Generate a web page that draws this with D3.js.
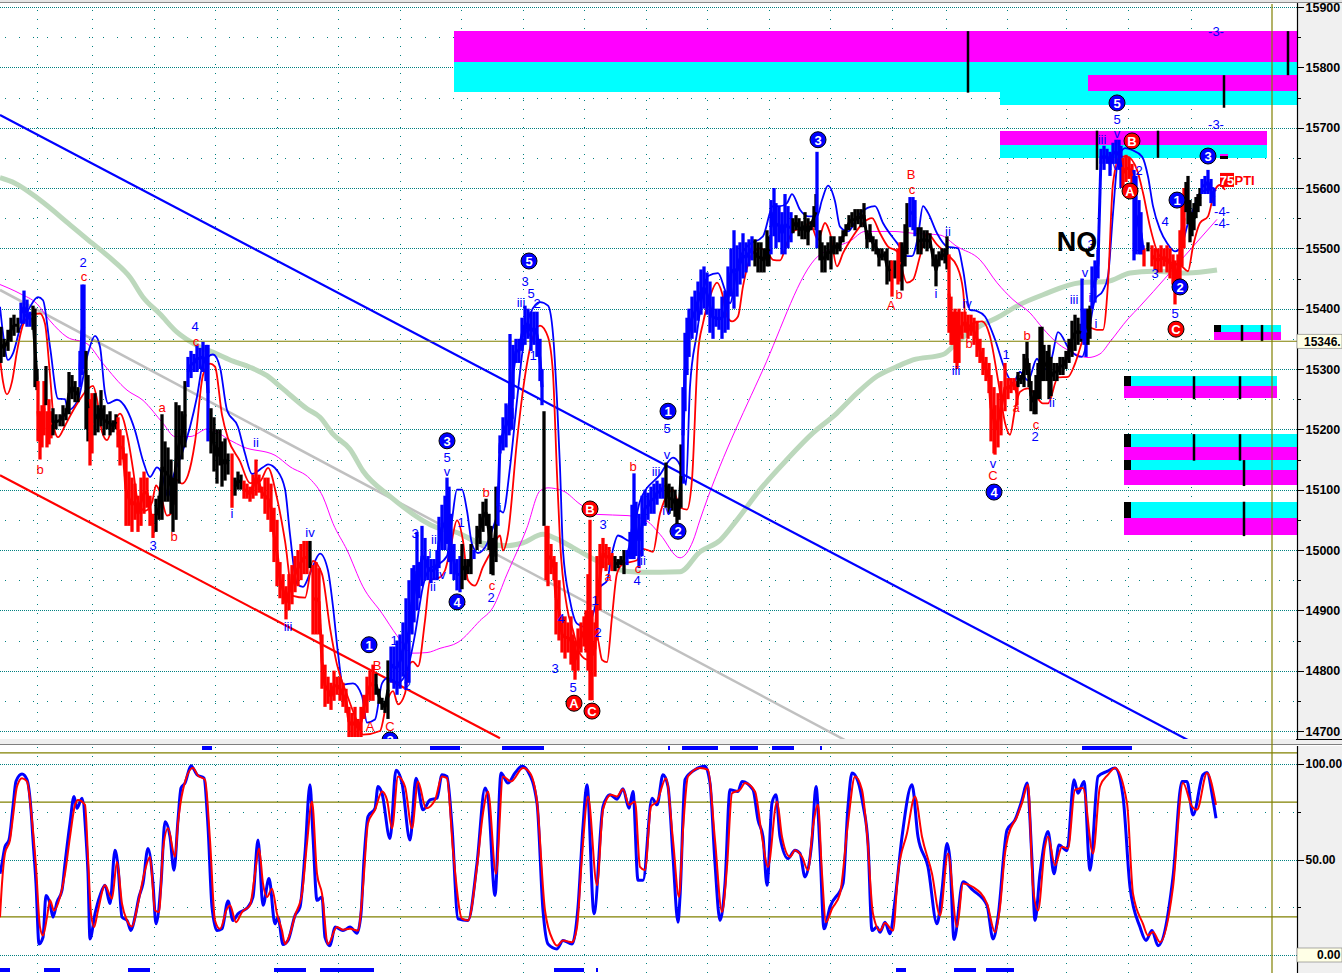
<!DOCTYPE html>
<html><head><meta charset="utf-8">
<style>
html,body{margin:0;padding:0;background:#fff;overflow:hidden}
svg{display:block}
text{font-family:"Liberation Sans",Arial,sans-serif}
.crisp{shape-rendering:crispEdges}
</style>
<script src="https://cdn.jsdelivr.net/npm/d3@7/dist/d3.min.js"></script>
</head><body><svg id="c" width="1342" height="973"></svg>
<script>
// ---- price bars: [bar, high, low]
const barsNeutral = [[1,15370,15310],[4,15350,15320],[8,15365,15330],[11,15385,15345],[14,15390,15355],[18,15385,15360],
[33,15405,15365],[35,15400,15270],[37,15300,15265],[46,15305,15240],[53,15235,15190],[56,15225,15200],[60,15225,15205],[63,15240,15205],[66,15235,15215],
[69,15295,15225],[72,15290,15250],[75,15280,15245],[78,15270,15245],[86,15330,15200],[88,15290,15180],
[95,15260,15190],[98,15240,15195],[101,15265,15205],[104,15240,15190],[107,15225,15200],[110,15230,15190],[113,15215,15195],[116,15225,15200],
[156,15085,15030],[159,15090,15050],[162,15225,15050],[165,15180,15080],[168,15170,15080],[171,15150,15060],[173,15120,15030],[176,15245,15050],[179,15240,15110],[182,15230,15150],[185,15280,15170],
[211,15235,15160],[214,15220,15130],[217,15200,15110],[220,15200,15140],[222,15180,15105],[225,15185,15115],[228,15160,15125],
[235,15120,15090],[238,15130,15100],[241,15125,15100],[310,15015,14970],
[376,14795,14760],[379,14770,14745],[382,14755,14735],[385,14750,14730],[388,14817,14720],
[462,15010,14935],[465,14985,14950],[468,14985,14960],[471,15010,14960],
[477,15040,15000],[480,15060,15010],[483,15080,15030],[486,15085,15040],[489,15060,15000],[491,15040,14960],[493,15020,14958],[496,15105,14980],
[544,15230,15040],[615,14990,14965],[618,14985,14970],[621,14990,14975],[624,15000,14960],
[666,15145,15070],[669,15110,15060],[672,15105,15065],[675,15100,15055],[677,15085,15040],[679,15085,15050],[681,15175,15070],
[755,15515,15470],[758,15510,15460],[761,15510,15460],[764,15500,15460],[767,15530,15470],[769,15520,15470],
[793,15550,15525],[796,15555,15530],[799,15550,15520],[802,15545,15515],[805,15560,15515],[808,15550,15505],[811,15545,15530],[814,15570,15535],[816,15590,15530],
[820,15530,15480],[822,15510,15460],[825,15505,15460],[828,15510,15480],[831,15520,15465],[834,15520,15490],[837,15510,15490],[840,15520,15495],
[843,15530,15510],[846,15540,15520],[849,15555,15530],[852,15560,15535],[855,15565,15530],[858,15565,15540],[861,15565,15535],[864,15575,15535],
[867,15530,15500],[870,15540,15510],[873,15520,15495],[876,15515,15490],[879,15500,15470],[882,15500,15480],[885,15495,15480],
[887,15500,15440],[890,15480,15445],[895,15480,15450],[902,15510,15430],[905,15540,15470],[907,15575,15490],
[918,15535,15490],[921,15535,15490],[924,15530,15500],[927,15530,15495],[930,15525,15500],[933,15500,15470],[936,15490,15437],[939,15495,15470],[942,15500,15480],[945,15500,15475],[947,15520,15465],
[1018,15295,15270],[1021,15290,15275],[1024,15325,15270],[1027,15345,15290],[1029,15310,15270],[1031,15280,15230],[1034,15265,15225],[1036,15290,15225],[1038,15310,15250],[1040,15370,15250],[1042,15370,15280],[1044,15340,15280],
[1047,15330,15280],[1049,15340,15250],[1051,15320,15255],[1054,15310,15280],[1057,15310,15280],[1060,15320,15290],[1063,15320,15290],[1066,15330,15300],[1069,15350,15310],[1072,15380,15320],[1075,15390,15330],[1078,15385,15340],[1081,15375,15345],
[1088,15400,15340],[1090,15405,15350],[1148,15510,15495],
[1186,15610,15560],[1188,15620,15540],[1190,15580,15510],[1192,15560,15520],[1194,15575,15530],[1196,15585,15550],[1198,15590,15560],[1200,15600,15570]];

const barsUp = [[21,15410,15375],[24,15430,15375],[27,15415,15370],[30,15395,15370],
[80,15330,15270],[82,15440,15290],[84,15440,15300],
[188,15320,15270],[191,15330,15285],[194,15325,15295],[197,15340,15295],[200,15335,15300],[203,15345,15295],[206,15340,15280],[208,15340,15180],
[391,14840,14780],[394,14840,14770],[397,14850,14760],[400,14860,14770],[403,14880,14790],[406,14920,14770],[409,14950,14780],[412,14970,14860],[414,14975,14880],[417,15030,14900],[419,14980,14920],[422,15040,14940],[425,15020,14950],[428,14990,14950],[431,14985,14945],[434,14985,14950],[437,15000,14950],[439,15055,14970],[442,15075,15000],[445,15090,15000],[447,15120,15010],[449,15105,14980],[451,15060,14960],[454,15010,14950],[457,14985,14933],[460,14990,14930],
[474,15000,14985],[498,15105,15040],[500,15190,15160],[503,15220,15165],[506,15243,15170],[509,15240,15190],[510,15358,15198],[512,15235,15200],[513,15340,15250],[516,15350,15310],[519,15350,15310],[522,15385,15330],[525,15405,15340],[528,15400,15350],[531,15395,15330],[534,15395,15340],[537,15395,15320],[540,15350,15280],[542,15300,15240],
[627,15000,14975],[630,15030,14985],[632,15075,14985],[634,15127,14985],[636,15080,14990],[639,15060,14970],[642,15090,14990],[645,15100,15040],[648,15095,15050],[651,15105,15060],[654,15110,15060],[657,15115,15075],[660,15110,15085],[663,15120,15085],
[683,15270,15110],[685,15360,15230],[687,15385,15290],[689,15400,15320],[692,15420,15350],[695,15430,15360],[698,15445,15380],[701,15465,15390],[704,15470,15400],[707,15460,15390],[710,15445,15360],[713,15420,15350],
[716,15400,15370],[719,15400,15365],[722,15420,15350],[725,15430,15360],[728,15470,15365],[731,15500,15420],[734,15530,15400],[737,15505,15420],[740,15510,15440],[743,15525,15450],[746,15510,15460],[749,15515,15470],[752,15520,15480],
[771,15580,15490],[774,15600,15520],[776,15575,15500],[779,15570,15510],[782,15560,15490],[785,15590,15490],[788,15570,15500],[791,15560,15510],[817,15660,15500],
[910,15585,15535],[913,15585,15530],[915,15580,15520],
[1082,15450,15350],[1084,15400,15340],[1086,15400,15320],[1092,15470,15400],[1095,15480,15410],[1098,15498,15450],
[1101,15665,15640],[1104,15670,15630],[1107,15665,15640],[1110,15660,15620],[1113,15675,15640],[1116,15680,15640],[1119,15680,15630],[1121,15670,15600],
[1134,15630,15480],[1136,15620,15490],[1139,15580,15490],[1141,15560,15490],[1143,15505,15490],
[1202,15615,15590],[1205,15620,15590],[1208,15630,15590],[1211,15615,15575],[1214,15600,15570]];

const barsDown = [[38,15280,15180],[40,15230,15150],[42,15240,15170],[44,15280,15190],[47,15230,15170],[49,15250,15175],[51,15230,15185],
[90,15250,15140],[92,15260,15160],
[118,15220,15170],[120,15200,15140],[123,15190,15150],[126,15160,15040],[129,15130,15040],[132,15120,15030],[135,15110,15050],[138,15090,15030],[141,15120,15040],[144,15130,15060],[147,15120,15070],[150,15090,15040],[153,15060,15020],
[232,15160,15070],[244,15115,15085],[247,15110,15085],[250,15105,15080],[253,15125,15085],[256,15150,15090],[259,15125,15095],[262,15105,15085],
[265,15120,15060],[268,15120,15050],[271,15110,15030],[274,15070,14980],[277,15050,14940],[280,14980,14920],[283,14960,14910],[286,14940,14885],[289,14960,14900],[292,14975,14910],[295,14990,14930],[298,15000,14940],[301,15010,14950],[304,15015,14960],[307,15015,14960],
[313,14975,14860],[316,14980,14860],[319,14970,14860],[322,14860,14770],[325,14810,14740],[328,14790,14745],[331,14780,14735],[334,14800,14750],[337,14790,14760],[340,14790,14750],[343,14780,14740],[346,14770,14730],[349,14740,14690],[352,14730,14690],[355,14740,14690],[358,14720,14690],[361,14740,14690],[364,14760,14720],[367,14790,14730],[370,14800,14750],[373,14810,14750],
[546,15040,14950],[548,15040,14940],[551,15010,14960],[554,14990,14950],[556,14980,14860],[559,14950,14850],[562,14890,14830],[565,14890,14820],[568,14880,14830],[571,14890,14810],[573,14860,14800],[575,14850,14785],[578,14870,14800],[581,14880,14830],[584,14890,14840],[586,14900,14830],[588,14960,14800],[590,15050,14751],[592,14900,14751],[595,14880,14790],
[597,14990,14850],[600,15010,14900],[603,15020,14970],[606,15010,14965],[609,15005,14975],[612,14995,14965],
[892,15480,15420],[898,15500,15440],[900,15510,15445],
[949,15490,15360],[951,15420,15340],[953,15395,15340],[955,15400,15310],[957,15395,15300],[959,15400,15310],[962,15395,15350],[965,15395,15360],[968,15390,15350],[971,15390,15355],[974,15385,15340],[977,15380,15320],[980,15350,15310],[983,15335,15290],[986,15320,15280],[989,15310,15260],[991,15290,15180],[994,15270,15160],[995,15240,15158],[998,15260,15170],[1001,15280,15190],[1005,15310,15230],[1008,15285,15250],[1011,15285,15260],[1014,15285,15265],[1017,15280,15240],
[1123,15650,15600],[1126,15655,15610],[1129,15650,15615],[1132,15640,15600],[1144,15500,15470],[1152,15505,15470],[1155,15500,15465],[1158,15500,15460],[1161,15505,15460],[1164,15500,15470],[1167,15505,15460],[1170,15500,15450],[1173,15490,15440],[1175,15480,15407],[1178,15490,15445],[1180,15530,15445],[1182,15590,15470],[1184,15600,15500]];

// ---- price overlays: [bar, price]
const fastAverage = [[0,15403],[3,15359],[8,15315],[13,15326],[20,15367],[30,15403],[38,15419],[43,15414],[50,15337],[58,15251],[65,15250],[68,15232],[78,15249],[88,15326],[95,15355],[100,15337],[105,15260],[108,15243],[117,15249],[127,15232],[135,15198],[143,15148],[150,15121],[157,15137],[162,15126],[168,15088],[173,15121],[182,15160],[190,15204],[197,15254],[203,15309],[213,15324],[220,15303],[227,15232],[238,15204],[245,15160],[252,15126],[263,15137],[268,15142],[277,15132],[285,15101],[290,15026],[297,14944],[303,14939],[310,14961],[320,14994],[328,14966],[333,14906],[338,14829],[343,14777],[353,14779],[362,14758],[367,14714],[375,14719],[382,14779],[388,14788],[398,14780],
[407,14800],[415,14860],[423,14940],[430,14970],[437,14975],[447,14990],[452,15050],[457,15100],[462,15100],[467,15065],[472,15010],[478,14995],[487,15010],[493,15037],[500,15065],[503,15062],[510,15137],[517,15248],[523,15336],[530,15391],[540,15411],[548,15405],[553,15358],[557,15248],[560,15137],[563,14999],[570,14916],[577,14878],[587,14872],[595,14905],[600,14938],[607,14949],[612,14994],[618,15024],[630,15015],[640,15081],[660,15125],[673,15153],[683,15128],[686,15108],[690,15271],[697,15360],[703,15426],[708,15454],[718,15459],[725,15431],[730,15409],[738,15476],[747,15503],[763,15520],[773,15570],[780,15570],[787,15575],[792,15590],[800,15564],[808,15553],[817,15553],[822,15580],[828,15604],[835,15578],[840,15536],[848,15528],[860,15558],[875,15570],[883,15542],[897,15509],[907,15487],[912,15487],[918,15520],[923,15570],[928,15559],[937,15525],[947,15503],[958,15500],[963,15465],[970,15398],[977,15396],[985,15387],[995,15349],[1005,15299],[1013,15277],[1020,15295],[1028,15281],[1037,15317],[1043,15298],[1052,15320],[1058,15361],[1070,15331],[1082,15320],[1087,15345],[1095,15415],[1103,15430],[1108,15454],[1113,15558],[1118,15647],[1125,15666],[1132,15663],[1142,15652],[1148,15619],[1153,15570],[1160,15531],[1167,15509],[1175,15495],[1182,15506],[1187,15536],[1193,15564],[1200,15592],[1207,15597],[1213,15600],[1216,15595]];

const slowAverage = [[0,15318],[3,15279],[7,15258],[12,15279],[17,15329],[23,15373],[32,15391],[40,15392],[45,15375],[50,15290],[55,15196],[58,15187],[65,15206],[72,15228],[80,15250],[88,15267],[93,15272],[97,15250],[102,15196],[107,15182],[113,15206],[120,15226],[128,15184],[133,15134],[138,15079],[145,15065],[152,15079],[156,15107],[160,15096],[167,15057],[172,15062],[177,15116],[182,15110],[188,15124],[195,15179],[203,15290],[210,15309],[215,15304],[222,15224],[228,15185],[240,15147],[250,15111],[260,15114],[268,15136],[277,15086],[285,15015],[293,14924],[305,14921],[313,14982],[322,14960],[330,14871],[337,14810],[347,14760],[357,14716],[363,14694],[380,14700],[387,14749],[393,14766],[398,14744],
[405,14762],[410,14812],[413,14815],[418,14807],[425,14883],[430,14950],[440,14955],[445,14966],[450,14999],[457,15049],[463,15015],[468,14950],[475,14941],[483,14972],[490,14994],[500,15024],[503,14999],[508,15027],[517,15181],[523,15265],[532,15348],[540,15372],[548,15353],[553,15292],[557,15126],[560,15016],[567,14905],[573,14867],[580,14828],[588,14818],[597,14856],[602,14818],[607,14814],[612,14889],[617,14961],[623,14977],[637,14983],[643,15002],[653,14997],[660,15060],[673,15099],[680,15071],[687,15067],[692,15117],[698,15327],[703,15376],[710,15420],[717,15443],[722,15426],[727,15387],[732,15379],[738,15387],[743,15437],[752,15490],[760,15500],[768,15492],[773,15481],[780,15480],[787,15509],[793,15528],[802,15534],[810,15542],[818,15514],[825,15542],[830,15525],[837,15470],[843,15492],[853,15520],[863,15542],[872,15550],[880,15525],[888,15503],[897,15495],[907,15443],[913,15448],[920,15487],[927,15525],[937,15506],[947,15490],[957,15470],[963,15431],[967,15360],[973,15376],[982,15379],[990,15354],[998,15282],[1005,15211],[1010,15191],[1015,15233],[1020,15262],[1028,15268],[1033,15262],[1043,15243],[1048,15243],[1058,15286],[1068,15287],[1075,15309],[1082,15345],[1087,15370],[1097,15365],[1103,15365],[1108,15442],[1113,15608],[1120,15652],[1127,15652],[1137,15630],[1143,15592],[1150,15536],[1158,15492],[1167,15478],[1173,15476],[1182,15470],[1188,15462],[1193,15503],[1200,15542],[1208,15553],[1215,15597],[1220,15605],[1225,15597]];

const longAverage = [[0,15440],[20,15425],[37,15408],[50,15380],[67,15353],[87,15342],[103,15309],[127,15265],[143,15248],[163,15210],[175,15188],[190,15188],[208,15201],[230,15182],[243,15171],[275,15157],[290,15138],[310,15118],[323,15088],[333,15044],[347,15000],[363,14939],[382,14895],[397,14858],[412,14829],[427,14830],[440,14837],[458,14847],[480,14883],[493,14905],[507,14960],[527,15037],[540,15098],[548,15103],[563,15098],[580,15076],[597,15059],[628,15057],[647,15048],[660,15026],[680,14987],[693,15015],[700,15050],[763,15299],[818,15487],[832,15500],[850,15512],[865,15528],[893,15528],[913,15525],[940,15522],[957,15503],[980,15481],[997,15443],[1013,15415],[1030,15393],[1043,15367],[1058,15342],[1072,15328],[1088,15319],[1100,15325],[1110,15345],[1128,15383],[1140,15404],[1167,15454],[1193,15503],[1217,15548]];

const trendAverage = [[0,15617],[15,15608],[40,15580],[70,15539],[88,15514],[113,15480],[130,15452],[143,15419],[160,15391],[177,15361],[197,15339],[217,15325],[233,15313],[250,15303],[267,15289],[283,15267],[307,15234],[320,15220],[333,15192],[350,15167],[363,15131],[390,15089],[437,15037],[457,15029],[480,15012],[507,15007],[523,15012],[543,15026],[557,15018],[573,15004],[597,14982],[617,14968],[640,14963],[680,14964],[700,14997],[720,15016],[737,15050],[760,15100],[787,15150],[813,15194],[837,15227],[857,15260],[877,15288],[897,15304],[913,15315],[943,15324],[960,15349],[980,15371],[997,15385],[1020,15407],[1043,15423],[1080,15443],[1107,15445],[1130,15459],[1153,15462],[1187,15459],[1217,15464]];

const channelUpper = [[0,15721],[1188,14685]];
const channelLower = [[0,15124],[500,14688]];
const channelMiddle = [[0,15431],[845,14685]];

// ---- oscillator: [bar, value]
const oscFast = [[0,42.6],[2,47.9],[5,56.7],[9,60.2],[13,77.7],[16,90.9],[22,94.7],[27,91.8],[31,76],[33,60.2],[36,37.4],[39,5.8],[43,9.3],[46,31.2],[50,26.9],[53,19.8],[57,27.7],[62,33.9],[65,47.9],[70,69],[74,83],[77,76.8],[82,82.1],[86,61.9],[88,42.6],[90,8.4],[95,21.6],[100,31.2],[105,36.5],[110,26.9],[115,54.9],[118,46.1],[122,19.8],[127,18.1],[131,12.8],[135,19.8],[139,30.4],[143,37.4],[148,55.8],[153,37.4],[156,16.3],[161,37.4],[165,69.8],[170,61.9],[174,44.4],[178,70.7],[181,87.4],[185,90],[191,99.1],[197,94.4],[204,92.6],[208,67.2],[212,25.1],[217,12.8],[222,13.7],[228,28.3],[233,18.1],[238,21.6],[248,25.1],[253,30.4],[258,60.2],[263,26],[269,40],[275,16.3],[278,19.8],[283,5.5],[288,7.6],[295,20.7],[300,25.1],[305,53.2],[310,89.1],[313,61.9],[317,28.6],[322,30.4],[325,9.3],[330,4.9],[335,14.6],[343,12.8],[350,14.6],
[357,11.4],[361,21.6],[364,49.7],[368,72.5],[375,76.8],[378,88.2],[382,84.7],[390,61],[396,96.7],[402,90],[410,60.2],[416,92.6],[423,76],[430,81.2],[437,82.1],[442,94.4],[447,93.5],[452,67.2],[458,19],[468,18.1],[477,47.9],[485,87.4],[488,83],[495,31.2],[501,95.3],[508,90],[515,95.3],[522,98.8],[528,96.1],[537,79.5],[543,23.3],[548,5.8],[557,3.2],[563,7.6],[572,5.8],[578,25.1],[583,67.2],[587,89.1],[594,21.6],[603,77.7],[610,83.9],[617,81.6],[623,87],[629,76.8],[633,85.6],[638,39.1],[643,39.1],[652,82.1],[657,78.6],[663,94.4],[668,88.2],[673,51.4],[678,17.2],[680,30.4],[685,91.8],[695,97],[705,98.8],[710,90],[715,47.9],[720,18.1],[725,37.4],[730,86.5],[738,85.6],[742,90.9],[753,86.5],[758,70.7],[763,61.9],[767,36.5],[772,79.5],[776,83.9],[780,61.9],[788,50.5],[795,54.9],[800,53.2],[805,40.9],[812,60.2],[816,88.2],[820,54.9],[824,13.7],[830,25.1],[843,37.4],[848,77.7],[852,95.3],[858,90.9],[863,78.6],[868,58.4],[872,12.8],[877,14.6],[880,11.9],[885,17.2],[890,11.1],[895,28.6],[902,61.9],[912,89.1],[918,61.9],[928,46.1],[937,16.3],[942,33.9],[947,58.4],[950,49.7],[954,8.1],[963,38.3],[973,33.9],[987,26],[993,8.4],[998,19.8],[1007,65.4],[1015,70.7],[1022,81.2],[1027,90],[1032,49.6],[1035,18.1],[1040,42.6],[1048,64.6],[1054,42.6],[1059,57.6],[1067,54.6],[1074,91.8],[1078,84.7],[1084,90.9],[1090,44.4],[1098,93.5],[1107,96.1],[1115,97.9],[1123,83],[1130,35.6],[1140,14.6],[1146,7.6],[1152,12.8],[1158,4.9],[1173,40.9],[1182,90.9],[1187,90.9],[1193,73.3],[1203,94.4],[1207,95.6],[1213,81.2],[1216,71.6]];

const oscSlow = [[0,19.8],[2,37.4],[5,53.2],[10,60.2],[13,72.5],[17,88.2],[22,92.6],[27,90.9],[32,70.7],[36,46.1],[40,14.6],[43,10.2],[47,19.8],[50,28.6],[54,23.3],[60,30.4],[65,42.6],[70,61.9],[75,78.6],[78,81.2],[85,78.6],[88,51.4],[91,21.6],[94,14.6],[98,23.3],[105,36.5],[112,29.5],[117,48.8],[122,26.9],[127,18.1],[132,14.9],[138,26.9],[145,44.4],[150,51.4],[155,23.3],[159,22.5],[163,54.9],[168,66.3],[175,51.4],[178,69],[183,86.5],[193,97.9],[198,93.9],[205,91.8],[210,60.2],[215,18.1],[220,13.7],[227,24.2],[230,26],[236,17.2],[242,22.5],[250,26],[255,42.6],[259,55.8],[263,37.4],[267,30.4],[272,34.7],[277,21.6],[282,12.8],[285,5.8],[290,11.1],[295,20.7],[302,32.1],[307,58.4],[312,80.4],[317,42.6],[322,32.1],[328,5.8],[337,14.6],[343,13.2],[350,13.7],
[358,12.8],[363,35.6],[368,69],[375,76],[382,85.6],[387,81.2],[392,66.3],[398,93.5],[405,88.2],[412,66.3],[418,90.9],[426,76.8],[435,81.2],[442,93.5],[447,92.6],[453,54.9],[462,19],[468,18.1],[477,46.1],[483,74.2],[488,85.6],[496,42.6],[503,93.5],[511,90.9],[523,97.9],[530,95.3],[537,80.4],[545,23.3],[553,7.6],[557,4.9],[563,7.6],[572,6.7],[577,14.6],[582,51.4],[588,83],[597,36.5],[603,76],[611,83.9],[617,83],[623,86.8],[629,78.6],[635,80.4],[640,46.1],[645,44.4],[651,77.7],[657,80.4],[666,92.6],[673,60.2],[679,30.4],[683,65.4],[688,93.5],[700,97.9],[708,97],[715,60.2],[722,22.5],[727,46.1],[732,84.7],[740,86.5],[745,90],[755,85.6],[762,61.9],[768,46.1],[777,80.4],[782,61.9],[790,51.4],[795,54.9],[802,51.4],[808,44.4],[813,67.2],[818,78.6],[822,42.6],[826,17.2],[832,24.2],[840,32.1],[848,69],[855,93.5],[862,86.5],[867,63.7],[873,21.6],[880,12.8],[885,16.7],[893,12.8],[898,42.6],[907,63.7],[915,83],[922,61.9],[932,42.6],[940,20.7],[948,53.2],[957,14.6],[963,37.4],[973,35.6],[987,26.9],[995,12],[1000,25.1],[1005,53.2],[1008,62],[1017,72.5],[1022,79.5],[1028,89.1],[1033,35.6],[1038,23.3],[1045,56.7],[1048,62],[1055,47],[1062,56.7],[1068,55.8],[1075,86.5],[1083,87.4],[1093,53.2],[1100,88.2],[1108,94.4],[1115,97.9],[1127,79.5],[1133,32.1],[1143,16.3],[1148,10.2],[1153,12],[1160,6.7],[1173,35.6],[1183,90],[1192,77.7],[1197,76],[1207,95.3],[1216,78.6]];

// ---- state strips: [first bar, last bar]
const stripUpper = [[202,212],[430,460],[502,544],[668,670],[682,718],[730,758],[772,794],[820,822],[1082,1132]];
const stripLower = [[0,10],[44,60],[128,150],[274,306],[320,374],[554,584],[596,598],[896,906],[954,976],[986,1014]];

// ---- target zones: [first bar, last bar, price top, price bottom]
const cyanZones = [[454,1297,15809,15759],[1000,1297,15809,15738],[1000,1267,15671,15650],[1214,1281,15373,15361],[1124,1277,15288,15272],[1124,1297,15192,15171],[1124,1297,15149,15133],[1124,1297,15080,15053]];
const magentaZones = [[454,1297,15860,15809],[1088,1297,15787,15761],[1000,1267,15695,15671],[1214,1281,15361,15348],[1124,1277,15272,15252],[1124,1297,15171,15149],[1124,1297,15133,15108],[1124,1297,15053,15025],[1220,1228,15657,15653]];
const blackBlocks = [[1214,1221,15373,15361],[1124,1131,15288,15272],[1124,1131,15192,15171],[1124,1131,15149,15133],[1124,1131,15080,15053],[1220,1228,15653,15648]];
// [bar, price top, price bottom]
const zoneTicks = [[968,15860,15758],[1288,15860,15787],[1224,15787,15733],[1097,15695,15630],[1158,15695,15650],[1242,15373,15346],[1262,15373,15346],[1194,15288,15250],[1240,15288,15250],[1194,15192,15148],[1240,15192,15148],[1244,15149,15106],[1244,15080,15023]];

// ---- labels: [text, bar, price]
const labelsUp = [["2",83,15477],["4",195,15370],["3",153,15008],["i",232,15061],["ii",256,15179],["iv",310,15030],["iii",288,14874],["1",394,14851],["2",407,14776],["3",415,15027],["ii",434,15017],["i",430,14995],["ii",433,14939],["iv",441,14960],["v",447,15131],["5",447,15154],["1",461,15046],["2",491,14922],["i",500,15070],["3",525,15445],["5",531,15425],["iii",521,15411],["2",537,15409],["iv",527,15361],["1",533,15323],["4",561,14887],["3",555,14804],["5",573,14773],["3",603,15043],["1",595,14917],["2",598,14864],["iii",656,15131],["v",667,15159],["5",667,15202],["iv",667,15066],["ii",643,14983],["4",637,14949],["i",936,15426],["ii",948,15529],["iii",956,15298],["iv",967,15409],["v",993,15143],["1",1006,15325],["2",1035,15189],["ii",1052,15244],["iii",1074,15416],["v",1085,15461],["3",1091,15507],["i",1090,15419],["i",1096,15376],["5",1117,15714],["v",1117,15691],["iii",1102,15681],["iv",1114,15638],["2",1139,15630],["1",1135,15504],["3",1155,15459],["4",1165,15544],["5",1175,15393],["-4-",1222,15562],["-4-",1222,15542],["-3-",1216,15860],["-3-",1216,15706]];
const labelsDown = [["c",84,15454],["c",196,15346],["a",162,15237],["b",40,15134],["b",174,15022],["B",377,14809],["A",370,14707],["C",390,14708],["a",462,14917],["b",486,15096],["c",492,14942],["a",608,14957],["b",633,15139],["c",638,14969],["B",911,15622],["c",912,15598],["A",891,15406],["b",899,15424],["b",969,15343],["C",993,15123],["a",1016,15237],["b",1027,15356],["c",1036,15209]];
const circlesUp = [["1",369,14843],["3",447,15181],["4",457,14914],["5",529,15479],["1",668,15230],["2",678,15031],["3",818,15680],["4",994,15096],["5",1117,15741],["1",1177,15580],["2",1180,15436],["3",1208,15653],["2",390,14685]];
const circlesDown = [["A",574,14746],["C",592,14733],["B",590,15068],["B",1132,15678],["A",1130,15595],["C",1176,15366]];

// ---- axes
const priceTicks = d3.range(14700, 15901, 100);
const priceMinor = d3.range(14750, 15901, 100);
const oscTicks = [100, 50];
const oscMinor = [75, 25];
const gridBars = [37,92,154,215,277,338,400,461,523,584,646,707,769,830,892,946,1007,1066,1128,1191];
const currentPrice = 15346, oscLevels = [80, 20], oscCap = 105.8;
const markerBar = 1272;
const textTag = "NQ";

// ---- layout
const W = 1342, H = 973, plotR = 1297;
const x = d3.scaleLinear().domain([0, 1297]).range([0, plotR]);
const yP = d3.scaleLinear().domain([14700, 15900]).range([731, 7]);
const yO = d3.scaleLinear().domain([0, 100]).range([955, 764]);
const svg = d3.select("#c");
const defs = svg.append("defs");
defs.append("clipPath").attr("id", "pc").append("rect").attr("x", 0).attr("y", 4).attr("width", plotR).attr("height", 735);
defs.append("clipPath").attr("id", "oc").append("rect").attr("x", 0).attr("y", 746).attr("width", plotR).attr("height", 227);

const TEAL = "#008080", OLIVE = "#808000", BLUE = "#0000ff", RED = "#ff0000";

const gPrice = svg.append("g").attr("clip-path", "url(#pc)");
const gOsc = svg.append("g").attr("clip-path", "url(#oc)");

function hgrid(g, scale, vals) {
  g.selectAll(null).data(vals).join("line")
    .attr("x1", 0).attr("x2", plotR).attr("y1", d => Math.round(scale(d)) + .5).attr("y2", d => Math.round(scale(d)) + .5)
    .attr("stroke", TEAL).attr("stroke-dasharray", "1,1").attr("class", "crisp");
}
function hdots(g, scale, vals) {
  g.selectAll(null).data(vals).join("line")
    .attr("x1", 5).attr("x2", plotR).attr("y1", d => Math.round(scale(d)) + .5).attr("y2", d => Math.round(scale(d)) + .5)
    .attr("stroke", TEAL).attr("stroke-dasharray", "1,13").attr("class", "crisp");
}
function vdots(g, y0, y1) {
  g.selectAll(null).data(gridBars).join("line")
    .attr("x1", d => Math.round(x(d)) + .5).attr("x2", d => Math.round(x(d)) + .5).attr("y1", y0).attr("y2", y1)
    .attr("stroke", TEAL).attr("stroke-dasharray", "1,8").attr("class", "crisp");
}
hgrid(gPrice, yP, priceTicks);
hdots(gPrice, yP, priceMinor);
vdots(gPrice, 10, 739);
hgrid(gOsc, yO, [100, 50, 0]);
hdots(gOsc, yO, oscMinor);
vdots(gOsc, 747, 973);

function zones(list, fill) {
  gPrice.selectAll(null).data(list).join("rect").attr("class", "crisp")
    .attr("x", d => x(d[0])).attr("width", d => x(d[1]) - x(d[0]))
    .attr("y", d => yP(d[2])).attr("height", d => yP(d[3]) - yP(d[2])).attr("fill", fill);
}
zones(cyanZones, "#00ffff");
zones(magentaZones, "#ff00ff");
zones(blackBlocks, "#000");
gPrice.selectAll(null).data(zoneTicks).join("line")
  .attr("x1", d => x(d[0])).attr("x2", d => x(d[0])).attr("y1", d => yP(d[1])).attr("y2", d => yP(d[2]))
  .attr("stroke", "#000").attr("stroke-width", 2.5);

const lineP = d3.line().x(d => x(d[0])).y(d => yP(d[1])).curve(d3.curveMonotoneX);
const lineO = d3.line().x(d => x(d[0])).y(d => yO(d[1])).curve(d3.curveMonotoneX);
function draw(g, gen, data, color, width) {
  g.append("path").attr("d", gen(data)).attr("fill", "none").attr("stroke", color).attr("stroke-width", width)
    .attr("stroke-linejoin", "round");
}
draw(gPrice, lineP, channelMiddle, "#c0c0c0", 2.5);
draw(gPrice, lineP, trendAverage, "#bcd8bc", 5);
draw(gPrice, lineP, longAverage, "#ff00ff", 1);
draw(gPrice, lineP, channelUpper, BLUE, 2.2);
draw(gPrice, lineP, channelLower, RED, 2.2);
draw(gPrice, lineP, fastAverage, BLUE, 1.8);
draw(gPrice, lineP, slowAverage, RED, 1.8);

gPrice.append("line").attr("x1", 0).attr("x2", plotR).attr("y1", yP(currentPrice)).attr("y2", yP(currentPrice))
  .attr("stroke", OLIVE).attr("stroke-width", 1.2);

const allBars = [].concat(
  barsNeutral.map(d => [...d, "#000"]),
  barsUp.map(d => [...d, BLUE]),
  barsDown.map(d => [...d, RED])
).sort((a, b) => a[0] - b[0]);
gPrice.selectAll(null).data(allBars).join("line")
  .attr("x1", d => x(d[0])).attr("x2", d => x(d[0])).attr("y1", d => yP(d[1])).attr("y2", d => yP(d[2]))
  .attr("stroke", d => d[3]).attr("stroke-width", 3.3);
gPrice.selectAll(null).data(d3.pairs(allBars).filter(p => p[1][0] - p[0][0] <= 4 && p[0][3] === p[1][3])).join("line")
  .attr("x1", p => x(p[0][0])).attr("x2", p => x(p[1][0]))
  .attr("y1", p => yP((p[0][1] + p[0][2]) / 2)).attr("y2", p => yP((p[1][1] + p[1][2]) / 2))
  .attr("stroke", p => p[0][3]).attr("stroke-width", 3);

function labels(list, color) {
  gPrice.selectAll(null).data(list).join("text")
    .attr("x", d => x(d[1])).attr("y", d => yP(d[2])).attr("dy", "0.36em").attr("text-anchor", "middle")
    .attr("font-size", 13).attr("fill", color).text(d => d[0]);
}
labels(labelsUp, BLUE);
labels(labelsDown, RED);
function circles(list, color) {
  const g = gPrice.selectAll(null).data(list).join("g").attr("transform", d => `translate(${x(d[1])},${yP(d[2])})`);
  g.append("circle").attr("r", 8).attr("fill", color).attr("stroke", "#000").attr("stroke-width", 1);
  g.append("text").attr("text-anchor", "middle").attr("dy", "0.37em").attr("font-size", 13).attr("font-weight", "bold").attr("fill", "#fff").text(d => d[0]);
}
circles(circlesUp, BLUE);
circles(circlesDown, RED);

gPrice.append("text").attr("x", x(1077)).attr("y", yP(15512)).attr("dy", "0.36em").attr("text-anchor", "middle")
  .attr("font-size", 27).attr("font-weight", "bold").attr("fill", "#000").text(textTag);
gPrice.append("rect").attr("x", x(1220)).attr("y", yP(15625)).attr("width", 14).attr("height", 14).attr("fill", RED);
gPrice.append("text").attr("x", x(1227)).attr("y", yP(15613)).attr("dy", "0.36em").attr("text-anchor", "middle").attr("font-size", 13).attr("font-weight", "bold").attr("fill", "#fff").text("75");
gPrice.append("text").attr("x", x(1234.5)).attr("y", yP(15613)).attr("dy", "0.36em").attr("font-size", 13).attr("font-weight", "bold").attr("fill", RED).text("PTI");

gOsc.selectAll(null).data(oscLevels.concat([oscCap])).join("line")
  .attr("x1", 0).attr("x2", plotR).attr("y1", d => yO(d)).attr("y2", d => yO(d)).attr("stroke", OLIVE).attr("stroke-width", 1.2);
draw(gOsc, lineO, oscFast, BLUE, 3);
draw(gOsc, lineO, oscSlow, RED, 2);

svg.selectAll(null).data(stripUpper).join("rect").attr("class", "crisp").attr("fill", BLUE)
  .attr("x", d => x(d[0])).attr("width", d => x(d[1]) - x(d[0])).attr("y", 746).attr("height", 4);
svg.selectAll(null).data(stripLower).join("rect").attr("class", "crisp").attr("fill", BLUE)
  .attr("x", d => x(d[0])).attr("width", d => x(d[1]) - x(d[0])).attr("y", 968).attr("height", 4);

svg.append("rect").attr("x", 0).attr("y", 739).attr("width", W).attr("height", 5).attr("fill", "#efefef");
svg.append("rect").attr("x", 0).attr("y", 744).attr("width", W).attr("height", 1).attr("fill", "#7f7f7f");
svg.append("rect").attr("x", 0).attr("y", 0).attr("width", W).attr("height", 2).attr("fill", "#e6e6e6");
svg.append("rect").attr("x", 0).attr("y", 2).attr("width", W).attr("height", 1).attr("fill", "#8a8a8a");

svg.append("line").attr("x1", x(markerBar)).attr("x2", x(markerBar)).attr("y1", 4).attr("y2", 973).attr("stroke", OLIVE).attr("stroke-width", 1.2);

svg.append("rect").attr("x", plotR).attr("y", 3).attr("width", W - plotR).attr("height", 736).attr("fill", "#f0f0f0");
svg.append("rect").attr("x", plotR).attr("y", 746).attr("width", W - plotR).attr("height", 227).attr("fill", "#f0f0f0");
function styleAxis(g, size) {
  g.select(".domain").attr("stroke", "#000").attr("stroke-width", 1.2);
  g.selectAll(".tick line").attr("stroke", "#000").attr("class", "crisp");
  g.selectAll("text").attr("font-size", size).attr("font-weight", "bold").attr("fill", "#000")
    .attr("text-anchor", "start").attr("font-family", '"Liberation Sans",Arial,sans-serif');
}
const aP = svg.append("g").attr("transform", `translate(${plotR + .5},0)`)
  .call(d3.axisRight(yP).tickValues(priceTicks).tickSize(6).tickPadding(2).tickFormat(d3.format("d")));
styleAxis(aP, 12.5); aP.select(".domain").attr("d", "M0,3V739");
const aPm = svg.append("g").attr("transform", `translate(${plotR + .5},0)`)
  .call(d3.axisRight(yP).tickValues(priceMinor).tickSize(3).tickFormat(""));
styleAxis(aPm, 12.5); aPm.select(".domain").remove();
const aO = svg.append("g").attr("transform", `translate(${plotR + .5},0)`)
  .call(d3.axisRight(yO).tickValues(oscTicks).tickSize(6).tickPadding(2).tickFormat(d3.format(".2f")));
styleAxis(aO, 12); aO.select(".domain").attr("d", "M0,746V973");
const aOm = svg.append("g").attr("transform", `translate(${plotR + .5},0)`)
  .call(d3.axisRight(yO).tickValues(oscMinor).tickSize(3).tickFormat(""));
styleAxis(aOm, 12); aOm.select(".domain").remove();
svg.append("rect").attr("x", plotR - 1).attr("y", 739).attr("width", W - plotR + 1).attr("height", 1).attr("fill", "#000");

function tag(yv, txt, tx) {
  svg.append("rect").attr("x", plotR).attr("y", yv - 7).attr("width", W - plotR).attr("height", 14).attr("fill", "#ffffe6").attr("stroke", "#777").attr("stroke-width", .6);
  svg.append("text").attr("x", tx).attr("y", yv).attr("dy", "0.36em").attr("font-size", 12).attr("font-weight", "bold").attr("fill", "#000").text(txt);
}
tag(yP(currentPrice), d3.format("d")(currentPrice) + ".", 1304);
tag(yO(0), d3.format(".2f")(0), 1317);
</script></body></html>
